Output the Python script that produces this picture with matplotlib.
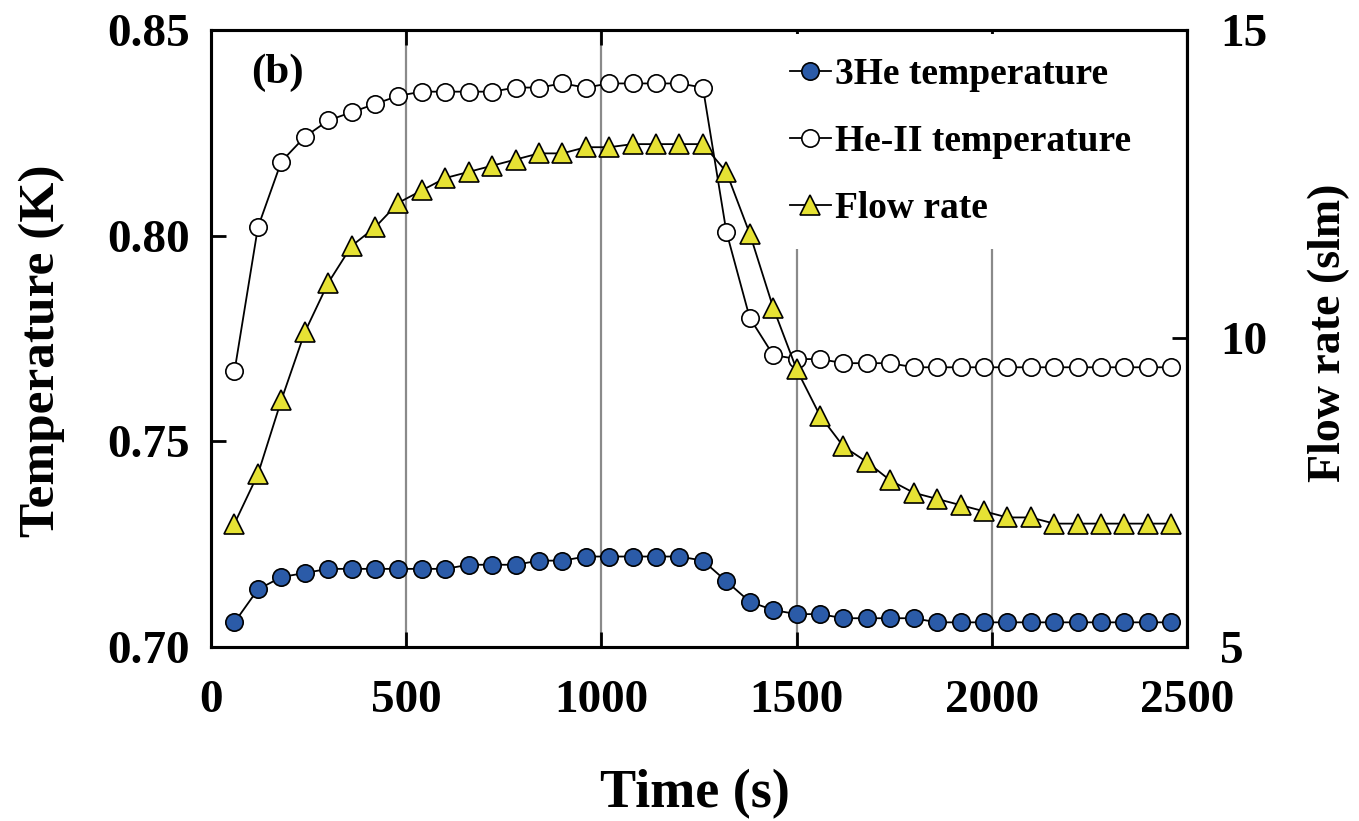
import numpy as np
import matplotlib.pyplot as plt
from matplotlib.ticker import FormatStrFormatter

plt.rcParams['font.family'] = ['Liberation Serif', 'DejaVu Serif']
plt.rcParams['font.weight'] = 'bold'

# time axis (s), one reading every 60 s
time = np.arange(60, 2461, 60)

# 3He temperature (K)
t_he3 = [0.706, 0.714, 0.717, 0.718, 0.719, 0.719, 0.719, 0.719, 0.719, 0.719,
         0.720, 0.720, 0.720, 0.721, 0.721, 0.722, 0.722, 0.722, 0.722, 0.722,
         0.721, 0.716, 0.711, 0.709, 0.708, 0.708, 0.707, 0.707, 0.707, 0.707,
         0.706, 0.706, 0.706, 0.706, 0.706, 0.706, 0.706, 0.706, 0.706, 0.706,
         0.706]

# He-II temperature (K)
t_he2 = [0.767, 0.802, 0.818, 0.824, 0.828, 0.830, 0.832, 0.834, 0.835, 0.835,
         0.835, 0.835, 0.836, 0.836, 0.837, 0.836, 0.837, 0.837, 0.837, 0.837,
         0.836, 0.801, 0.780, 0.771, 0.770, 0.770, 0.769, 0.769, 0.769, 0.768,
         0.768, 0.768, 0.768, 0.768, 0.768, 0.768, 0.768, 0.768, 0.768, 0.768,
         0.768]

# flow rate (slm)
flow = [7.0, 7.8, 9.0, 10.1, 10.9, 11.5, 11.8, 12.2, 12.4, 12.6,
        12.7, 12.8, 12.9, 13.0, 13.0, 13.1, 13.1, 13.15, 13.15, 13.15,
        13.15, 12.7, 11.7, 10.5, 9.5, 8.75, 8.25, 8.0, 7.7, 7.5,
        7.4, 7.3, 7.2, 7.1, 7.1, 7.0, 7.0, 7.0, 7.0, 7.0,
        7.0]

fig = plt.figure(figsize=(13.59, 8.21), dpi=100)
ax = fig.add_axes([0.1553, 0.2119, 0.7181, 0.7516])
ax2 = ax.twinx()

l1, = ax.plot(time, t_he3, color='black', lw=1.3, marker='o', ms=12.5,
              mfc='#2b5ba8', mec='black', mew=1.2, label='3He temperature')
l2, = ax.plot(time, t_he2, color='black', lw=1.3, marker='o', ms=12.5,
              mfc='white', mec='black', mew=1.2, label='He-II temperature')
l3, = ax2.plot(time, flow, color='black', lw=1.3, marker='^', ms=14,
               mfc='#e6e234', mec='black', mew=1.2, label='Flow rate')

ax.set_xlim(0, 2500)
ax.set_ylim(0.70, 0.85)
ax2.set_ylim(5, 15)
ax.set_xticks([0, 500, 1000, 1500, 2000, 2500])
ax.set_yticks([0.70, 0.75, 0.80, 0.85])
ax2.set_yticks([5, 10, 15])
ax.yaxis.set_major_formatter(FormatStrFormatter('%.2f'))

ax.grid(axis='x', color='#8a8a8a', lw=1.6)
ax.grid(axis='y', visible=False)

for a in (ax, ax2):
    for s in a.spines.values():
        s.set_linewidth(2.2)

ax.tick_params(axis='x', direction='in', length=11, width=2, labelsize=34, pad=24)
ax.tick_params(axis='y', direction='in', length=11, width=2, labelsize=34, pad=15)
ax2.tick_params(axis='y', direction='in', length=11, width=2, labelsize=34, pad=24)

# top ticks drawn by the twin so the legend box does not hide them
ax2.xaxis.set_visible(True)
ax2.tick_params(axis='x', which='both', bottom=False, top=True, labelbottom=False,
                labeltop=False, direction='in', length=11, width=2)

ax.set_xlabel('Time (s)', fontsize=39, fontweight='bold')
ax.xaxis.set_label_coords(0.496, -0.198)
ax.set_ylabel('Temperature (K)', fontsize=37, fontweight='bold')
ax.yaxis.set_label_coords(-0.150, 0.48)
ax2.set_ylabel('Flow rate (slm)', fontsize=33, fontweight='bold', rotation=90)
ax2.yaxis.set_label_coords(1.124, 0.51)

ax.text(0.068, 0.93, '(b)', transform=ax.transAxes, fontsize=31,
        fontweight='bold', ha='center', va='center')

leg = ax2.legend(handles=[l1, l2, l3], loc='upper left', bbox_to_anchor=(0.570, 0.993),
                 borderaxespad=0, fontsize=27, frameon=True, facecolor='white',
                 edgecolor='none', framealpha=1, fancybox=False, handlelength=1.1,
                 handletextpad=0.1, labelspacing=0.86, borderpad=0.6)
leg.set_zorder(2.2)

fig.savefig('out.png', dpi=100)
